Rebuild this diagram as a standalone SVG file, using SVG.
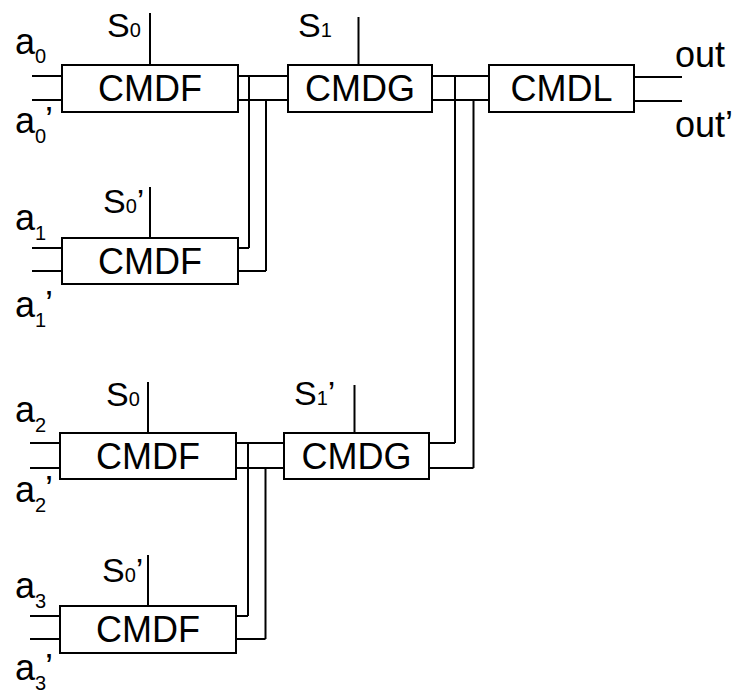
<svg xmlns="http://www.w3.org/2000/svg" width="734" height="696" viewBox="0 0 734 696">
<style>
.box{fill:#fff;stroke:#000;stroke-width:2}
.w{fill:none;stroke:#000;stroke-width:2}
text{font-family:"Liberation Sans",Arial,sans-serif;fill:#000}
.big{font-size:36px}
.lbl{font-size:36px}
.s{font-size:34px}
.sub{font-size:20px}
.c{text-anchor:middle}
</style>
<rect width="734" height="696" fill="#fff"/>
<g id="connectors">
<path class="w" d="M32 76H62M32 100H62M150 13V65"/>
<path class="w" d="M238 76H288M238 100H288M249 76V248M266 100V271M238 248H249M238 271H266"/>
<path class="w" d="M32 248H62M32 271H62M150 187V238"/>
<path class="w" d="M358.5 17V65M432 76H489M432 100H489M455 76V443M473.5 100V468M429 443H455M429 468H473.5"/>
<path class="w" d="M634 77H682M634 101H682"/>
<path class="w" d="M30 443H60M30 468H60M148 382V433"/>
<path class="w" d="M236 443H284M236 468H284M248 443V616M265.5 468V639M236 616H248M236 639H265.5"/>
<path class="w" d="M354.5 385V433"/>
<path class="w" d="M30 616H60M30 639H60M148 555V606"/>
</g>
<g id="cmdf0"><rect class="box" x="62" y="65" width="176" height="47"/><text class="big c" x="150" y="101">CMDF</text></g>
<g id="cmdg0"><rect class="box" x="288" y="65" width="144" height="47"/><text class="big c" x="360" y="101">CMDG</text></g>
<g id="cmdl"><rect class="box" x="489" y="65" width="145" height="47"/><text class="big c" x="561.5" y="101">CMDL</text></g>
<g id="cmdf1"><rect class="box" x="62" y="238" width="176" height="46"/><text class="big c" x="150" y="274">CMDF</text></g>
<g id="cmdf2"><rect class="box" x="60" y="433" width="176" height="46"/><text class="big c" x="148" y="469">CMDF</text></g>
<g id="cmdg1"><rect class="box" x="284" y="433" width="145" height="46"/><text class="big c" x="356.5" y="469">CMDG</text></g>
<g id="cmdf3"><rect class="box" x="60" y="606" width="176" height="47"/><text class="big c" x="148" y="642">CMDF</text></g>
<g id="labels">
<text class="lbl" x="15" y="54">a<tspan class="sub" dy="9">0</tspan></text>
<text class="lbl" x="15" y="133">a<tspan class="sub" dy="10">0</tspan></text><text class="lbl" x="45" y="133">’</text>
<text class="lbl" x="15" y="230">a<tspan class="sub" dy="10">1</tspan></text>
<text class="lbl" x="15" y="317">a<tspan class="sub" dy="10">1</tspan></text><text class="lbl" x="45" y="317">’</text>
<text class="lbl" x="15" y="422">a<tspan class="sub" dy="10">2</tspan></text>
<text class="lbl" x="15" y="502">a<tspan class="sub" dy="10">2</tspan></text><text class="lbl" x="45" y="502">’</text>
<text class="lbl" x="15" y="598">a<tspan class="sub" dy="10">3</tspan></text>
<text class="lbl" x="15" y="680">a<tspan class="sub" dy="10">3</tspan></text><text class="lbl" x="45" y="680">’</text>
<text class="s" x="107" y="37">S<tspan class="sub">0</tspan></text>
<text class="s" x="298" y="37">S<tspan class="sub">1</tspan></text>
<text class="s" x="103" y="213">S<tspan class="sub">0</tspan>’</text>
<text class="s" x="106" y="406">S<tspan class="sub">0</tspan></text>
<text class="s" x="294" y="405">S<tspan class="sub">1</tspan>’</text>
<text class="s" x="102" y="582">S<tspan class="sub">0</tspan>’</text>
<text class="lbl" x="675" y="67">out</text>
<text class="lbl" x="675" y="137">out’</text>
</g>
</svg>
